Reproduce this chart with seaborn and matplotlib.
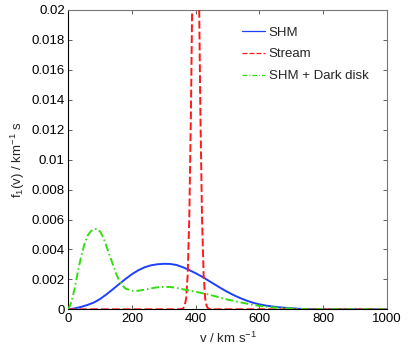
import numpy as np
import pandas as pd
import matplotlib
matplotlib.use("Agg")
import matplotlib.pyplot as plt
import seaborn as sns

# ---- data ----
v_shm = [0, 20, 40, 60, 80, 100, 120, 140, 160, 180, 200, 220, 240, 260, 280, 300,
         320, 340, 360, 380, 400, 420, 440, 460, 480, 500, 520, 540, 560, 580, 600,
         620, 640, 660, 680, 700, 720, 740, 760, 780, 1000]
f_shm = [0, 0.00006, 0.00016, 0.00029, 0.00045, 0.00069, 0.00100, 0.00134, 0.00169,
         0.00203, 0.00235, 0.00261, 0.00281, 0.00294, 0.00301, 0.00304, 0.00303,
         0.00296, 0.00281, 0.00262, 0.00241, 0.00218, 0.00192, 0.00166, 0.00140,
         0.00116, 0.00094, 0.00075, 0.00058, 0.00044, 0.00033, 0.00025, 0.00019,
         0.00014, 0.00010, 0.00007, 0.00004, 0.00002, 0.00001, 0, 0]

v_stream = [0, 350, 360, 365, 370, 375, 380, 385, 390, 395, 400, 405, 410, 415, 420,
            425, 430, 435, 440, 450, 1000]
f_stream = [0, 0, 0.00004, 0.0002, 0.0007, 0.0023, 0.0061, 0.0129, 0.0220, 0.0303,
            0.0337, 0.0303, 0.0220, 0.0129, 0.0061, 0.0023, 0.0007, 0.0002, 0.00004,
            0, 0]

v_dd = [0, 10, 20, 30, 40, 50, 60, 70, 80, 90, 100, 110, 120, 130, 140, 150, 160,
        170, 180, 200, 220, 240, 260, 280, 300, 320, 340, 360, 380, 400, 420, 440,
        460, 480, 500, 520, 540, 560, 580, 600, 620, 640, 660, 680, 700, 720, 740,
        760, 1000]
f_dd = [0, 0.0005, 0.0014, 0.0025, 0.0035, 0.0043, 0.0049, 0.0052, 0.00535, 0.00537,
        0.0052, 0.0048, 0.0042, 0.0036, 0.0030, 0.0024, 0.0019, 0.0016, 0.00138,
        0.00124, 0.00124, 0.00131, 0.00140, 0.00147, 0.00150, 0.00149, 0.00143,
        0.00134, 0.00125, 0.00117, 0.00108, 0.00099, 0.00088, 0.00076, 0.00065,
        0.00056, 0.00047, 0.00038, 0.00030, 0.00023, 0.00018, 0.00013, 0.00010,
        0.00007, 0.00005, 0.00003, 0.00001, 0, 0]

x_ticks = [0, 200, 400, 600, 800, 1000]
y_ticks = [0, 0.002, 0.004, 0.006, 0.008, 0.01, 0.012, 0.014, 0.016, 0.018, 0.02]
y_tick_labels = ["0", "0.002", "0.004", "0.006", "0.008", "0.01", "0.012", "0.014",
                 "0.016", "0.018", "0.02"]
labels = ["SHM", "Stream", "SHM + Dark disk"]

sns.set_theme(style="white")
plt.rcParams["font.family"] = ["Liberation Sans", "DejaVu Sans"]
plt.rcParams["mathtext.fontset"] = "custom"
plt.rcParams["mathtext.rm"] = "Liberation Sans"
plt.rcParams["mathtext.it"] = "Liberation Sans"
plt.rcParams["mathtext.default"] = "regular"

fig = plt.figure(figsize=(4.15, 3.48), dpi=100)
ax = fig.add_axes([68.3 / 415, 1 - 309.3 / 348, (386.7 - 68.3) / 415, (309.3 - 10) / 348])

df_shm = pd.DataFrame({"v": v_shm, "f": f_shm})
df_str = pd.DataFrame({"v": v_stream, "f": f_stream})
df_dd = pd.DataFrame({"v": v_dd, "f": f_dd})

lw = 1.4
sns.lineplot(data=df_shm, x="v", y="f", ax=ax, color="#1f3fff", lw=lw,
             label=labels[0], zorder=3, sort=False)
sns.lineplot(data=df_str, x="v", y="f", ax=ax, color="#ff1a1a", lw=lw,
             label=labels[1], zorder=3, sort=False)
sns.lineplot(data=df_dd, x="v", y="f", ax=ax, color="#33dd11", lw=lw,
             label=labels[2], zorder=3, sort=False)
lines = ax.get_lines()
lines[1].set_dashes((4, 1.6))
lines[2].set_dashes((4, 1.5, 0.8, 1.5))

ax.set_xlim(0, 1000)
ax.set_ylim(0, 0.02)
ax.set_xticks(x_ticks)
ax.set_xticklabels([str(t) for t in x_ticks])
ax.set_yticks(y_ticks)
ax.set_yticklabels(y_tick_labels)
ax.tick_params(direction="in", length=3, width=0.6, colors="#444444",
               labelcolor="black", labelsize=9.5, top=True, right=True,
               bottom=True, left=True, pad=2.5)
for s in ["left", "bottom"]:
    ax.spines[s].set_color("black")
    ax.spines[s].set_linewidth(0.8)
for s in ["top", "right"]:
    ax.spines[s].set_color("#777777")
    ax.spines[s].set_linewidth(0.8)

ax.set_xlabel("v / km s$^{-1}$", fontsize=9.5, labelpad=4.5)
ax.set_ylabel("f$_1$(v) / km$^{-1}$ s", fontsize=9.5, labelpad=3)

leg = ax.legend(loc="upper left", bbox_to_anchor=(0.545, 0.945), frameon=False,
                fontsize=9.5, borderpad=0, borderaxespad=0, handlelength=1.75,
                handletextpad=0.3, labelspacing=0.72)
for h in leg.get_lines():
    h.set_linewidth(0.9)

fig.savefig("out.png", dpi=100, facecolor="white")
